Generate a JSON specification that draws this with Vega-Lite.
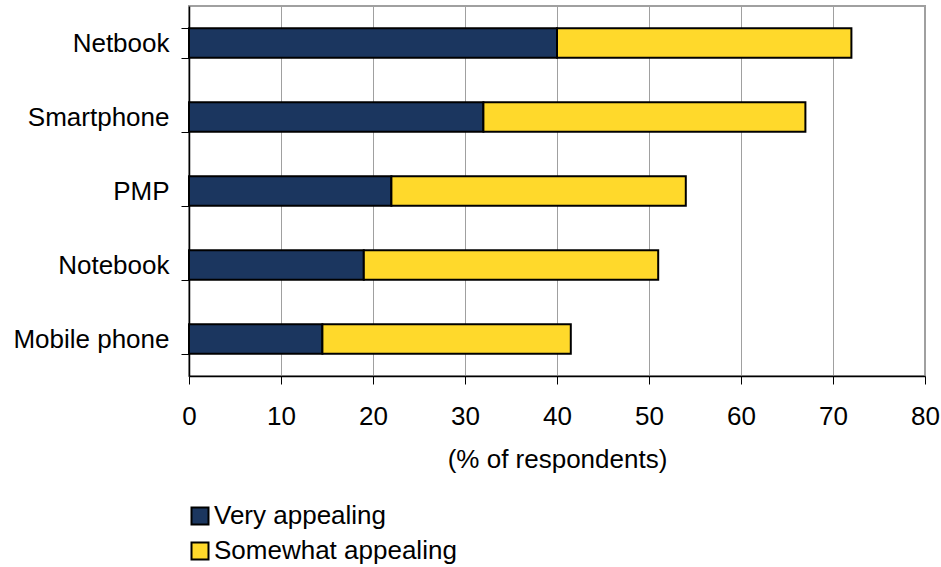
{
  "$schema": "https://vega.github.io/schema/vega-lite/v6.json",
  "width": 736,
  "height": 370,
  "autosize": {"type": "none"},
  "padding": {"left": 189, "top": 6, "right": 16, "bottom": 191},
  "background": "white",
  "config": {
    "font": "Liberation Sans",
    "view": {"stroke": "#a0a0a0", "strokeWidth": 2}
  },
  "data": {
    "values": [
      {"device": "Netbook", "type": "Very appealing", "o": 1, "value": 40},
      {"device": "Netbook", "type": "Somewhat appealing", "o": 2, "value": 32},
      {"device": "Smartphone", "type": "Very appealing", "o": 1, "value": 32},
      {"device": "Smartphone", "type": "Somewhat appealing", "o": 2, "value": 35},
      {"device": "PMP", "type": "Very appealing", "o": 1, "value": 22},
      {"device": "PMP", "type": "Somewhat appealing", "o": 2, "value": 32},
      {"device": "Notebook", "type": "Very appealing", "o": 1, "value": 19},
      {"device": "Notebook", "type": "Somewhat appealing", "o": 2, "value": 32},
      {"device": "Mobile phone", "type": "Very appealing", "o": 1, "value": 14.5},
      {"device": "Mobile phone", "type": "Somewhat appealing", "o": 2, "value": 27}
    ]
  },
  "mark": {"type": "bar", "stroke": "black", "strokeWidth": 2},
  "encoding": {
    "y": {
      "field": "device",
      "type": "nominal",
      "sort": null,
      "scale": {"paddingInner": 0.6, "paddingOuter": 0.3},
      "axis": {
        "title": null,
        "labelFontSize": 26,
        "labelColor": "black",
        "labelPadding": 12,
        "labelLimit": 0,
        "tickBand": "extent",
        "tickSize": 8,
        "tickColor": "black",
        "domainColor": "black",
        "domainWidth": 1.5,
        "grid": false
      }
    },
    "x": {
      "field": "value",
      "type": "quantitative",
      "stack": "zero",
      "scale": {"domain": [0, 80], "nice": false},
      "axis": {
        "title": "(% of respondents)",
        "titleFontSize": 26,
        "titleFontWeight": "normal",
        "titleColor": "black",
        "titlePadding": 17,
        "values": [0, 10, 20, 30, 40, 50, 60, 70, 80],
        "labelFontSize": 26,
        "labelColor": "black",
        "labelPadding": 19,
        "labelFlush": false,
        "labelOverlap": false,
        "tickSize": 8,
        "tickColor": "black",
        "domainColor": "black",
        "domainWidth": 1.5,
        "grid": true,
        "gridColor": "#a0a0a0",
        "gridWidth": 1,
        "gridOpacity": 1
      }
    },
    "color": {
      "field": "type",
      "type": "nominal",
      "sort": ["Very appealing", "Somewhat appealing"],
      "scale": {"domain": ["Very appealing", "Somewhat appealing"], "range": ["#1b365f", "#ffd92b"]},
      "legend": {
        "title": null,
        "orient": "none",
        "legendX": -2,
        "legendY": 497,
        "direction": "vertical",
        "symbolType": "square",
        "symbolSize": 289,
        "symbolStrokeColor": "black",
        "symbolStrokeWidth": 2,
        "symbolOpacity": 1,
        "labelFontSize": 26,
        "labelColor": "black",
        "labelOffset": 1,
        "labelLimit": 0,
        "rowPadding": 9
      }
    },
    "order": {"field": "o", "type": "quantitative"}
  }
}
